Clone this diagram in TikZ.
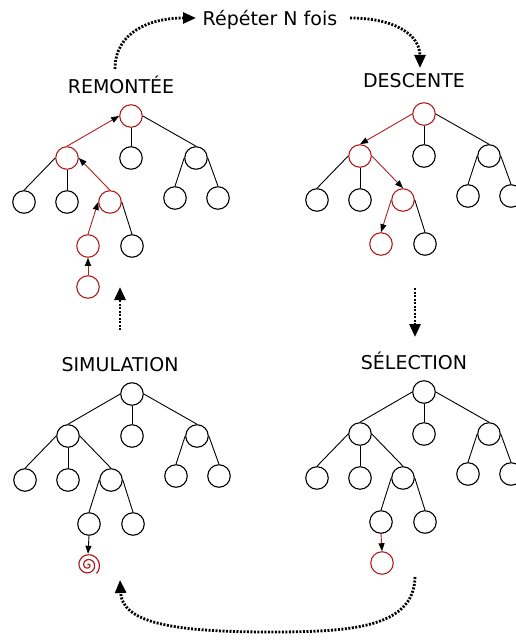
\documentclass[tikz,border=0pt]{standalone}
\usepackage{fontspec}
\setmainfont{DejaVu Sans}
\usetikzlibrary{arrows.meta,calc}
\definecolor{tred}{RGB}{176,30,30}
\tikzset{
  nd/.style={circle, draw=black, line width=1.1pt, minimum size=22.5pt, inner sep=0pt},
  rednd/.style={draw=tred},
  edge/.style={draw=black, line width=0.9pt},
  redup/.style={draw=tred, {Triangle[length=8pt,width=6pt,color=black]}-},
  reddown/.style={draw=tred, -{Triangle[length=8pt,width=6pt,color=black]}},
  blackdown/.style={draw=black, -{Triangle[length=8pt,width=6pt,color=black]}},
  lbl/.style={font=\fontsize{19}{23}\selectfont, anchor=base, inner sep=0pt},
  dots/.style={line width=2.8pt, dash pattern=on 2pt off 1.5pt, -{Triangle[length=13pt,width=11pt]}},
  s-r/.style={}, s-a/.style={}, s-b/.style={}, s-c/.style={},
  s-aa/.style={}, s-ab/.style={}, s-ac/.style={}, s-ca/.style={}, s-cb/.style={},
  s-aca/.style={}, s-acb/.style={},
  e-a/.style={}, e-b/.style={}, e-c/.style={}, e-aa/.style={}, e-ab/.style={},
  e-ac/.style={}, e-ca/.style={}, e-cb/.style={}, e-aca/.style={}, e-acb/.style={},
}
\newcommand\mktree[1]{%
  \node[nd,s-r] (#1r) at (0,0) {};
  \node[nd,s-a] (#1a) at (-64,42) {};
  \node[nd,s-b] (#1b) at (0,42) {};
  \node[nd,s-c] (#1c) at (65,42) {};
  \node[nd,s-aa] (#1aa) at (-107,86) {};
  \node[nd,s-ab] (#1ab) at (-64,86) {};
  \node[nd,s-ac] (#1ac) at (-21,86) {};
  \node[nd,s-ca] (#1ca) at (44,82) {};
  \node[nd,s-cb] (#1cb) at (87,82) {};
  \node[nd,s-aca] (#1aca) at (-43,130) {};
  \node[nd,s-acb] (#1acb) at (1,130) {};
  \draw[edge,e-a] (#1r.west) -- (#1a.north);
  \draw[edge,e-b] (#1r.south) -- (#1b.north);
  \draw[edge,e-c] (#1r.east) -- (#1c.north);
  \draw[edge,e-aa] (#1a.west) -- (#1aa.north);
  \draw[edge,e-ab] (#1a.south) -- (#1ab.north);
  \draw[edge,e-ac] (#1a.east) -- (#1ac.north);
  \draw[edge,e-ca] (#1c.west) -- (#1ca.north);
  \draw[edge,e-cb] (#1c.east) -- (#1cb.north);
  \draw[edge,e-aca] (#1ac.west) -- (#1aca.north);
  \draw[edge,e-acb] (#1ac.east) -- (#1acb.north);
}
\begin{document}
\begin{tikzpicture}[x=1pt,y=-1pt]
\useasboundingbox (0,0) rectangle (515,642);

% labels
\node[lbl] (rep) at (270,26) {Répéter N fois};
\node[lbl] (rem) at (121,93) {REMONTÉE};
\node[lbl] (desc) at (414,87) {DESCENTE};
\node[lbl] (sim) at (120,371) {SIMULATION};
\node[lbl] (sel) at (414,369) {SÉLECTION};

% REMONTEE
\begin{scope}[shift={(131,116)},
  s-r/.style={rednd}, s-a/.style={rednd}, s-ac/.style={rednd}, s-aca/.style={rednd},
  e-a/.style={redup}, e-ac/.style={redup}, e-aca/.style={redup}]
  \mktree{A}
  \node[nd,rednd] (Aacaa) at (-43,171) {};
  \draw[edge,redup] (Aaca.south) -- (Aacaa.north);
\end{scope}

% DESCENTE
\begin{scope}[shift={(424,114)},
  s-r/.style={rednd}, s-a/.style={rednd}, s-ac/.style={rednd}, s-aca/.style={rednd},
  e-a/.style={reddown}, e-ac/.style={reddown}, e-aca/.style={reddown}]
  \mktree{B}
\end{scope}

% SIMULATION
\begin{scope}[shift={(132,394)}]
  \mktree{C}
  \node[circle, minimum size=22pt, inner sep=0pt] (Csp) at (-44,171) {};
  \draw[edge,blackdown] (Caca.south) -- (Csp.north);
\end{scope}
\begin{scope}[shift={(Csp.center)}]
  \draw[tred, line width=1.2pt, domain=0:15.708, samples=160, variable=\t]
    plot ({0.76*\t*cos(\t r - 135)}, {0.76*\t*sin(\t r - 135)});
\end{scope}

% SELECTION
\begin{scope}[shift={(424,392)}]
  \mktree{D}
  \node[nd,rednd] (Dacaa) at (-42,171) {};
  \draw[edge,reddown] (Daca.south) -- (Dacaa.north);
\end{scope}

% dotted cycle arrows
\coordinate (p1) at (115,69);
\coordinate (p2) at (196,18);
\coordinate (p3) at (350,18);
\coordinate (p4) at (420,68);
\coordinate (p5) at (415,288);
\coordinate (p6) at (415,337);
\coordinate (p7) at (415,577);
\coordinate (p8) at (270,632);
\coordinate (p9) at (120,580);
\coordinate (p10) at (120,330);
\coordinate (p11) at (120,287);
\draw[dots] (p1) .. controls (115,32) and (150,18) .. (p2);
\draw[dots] (p3) .. controls (395,18) and (420,35) .. (p4);
\draw[dots] (p5) -- (p6);
\draw[dots] (p7) .. controls (414,628) and (350,632) .. (p8) .. controls (170,632) and (122,622) .. (p9);
\draw[dots] (p10) -- (p11);
\end{tikzpicture}
\end{document}
